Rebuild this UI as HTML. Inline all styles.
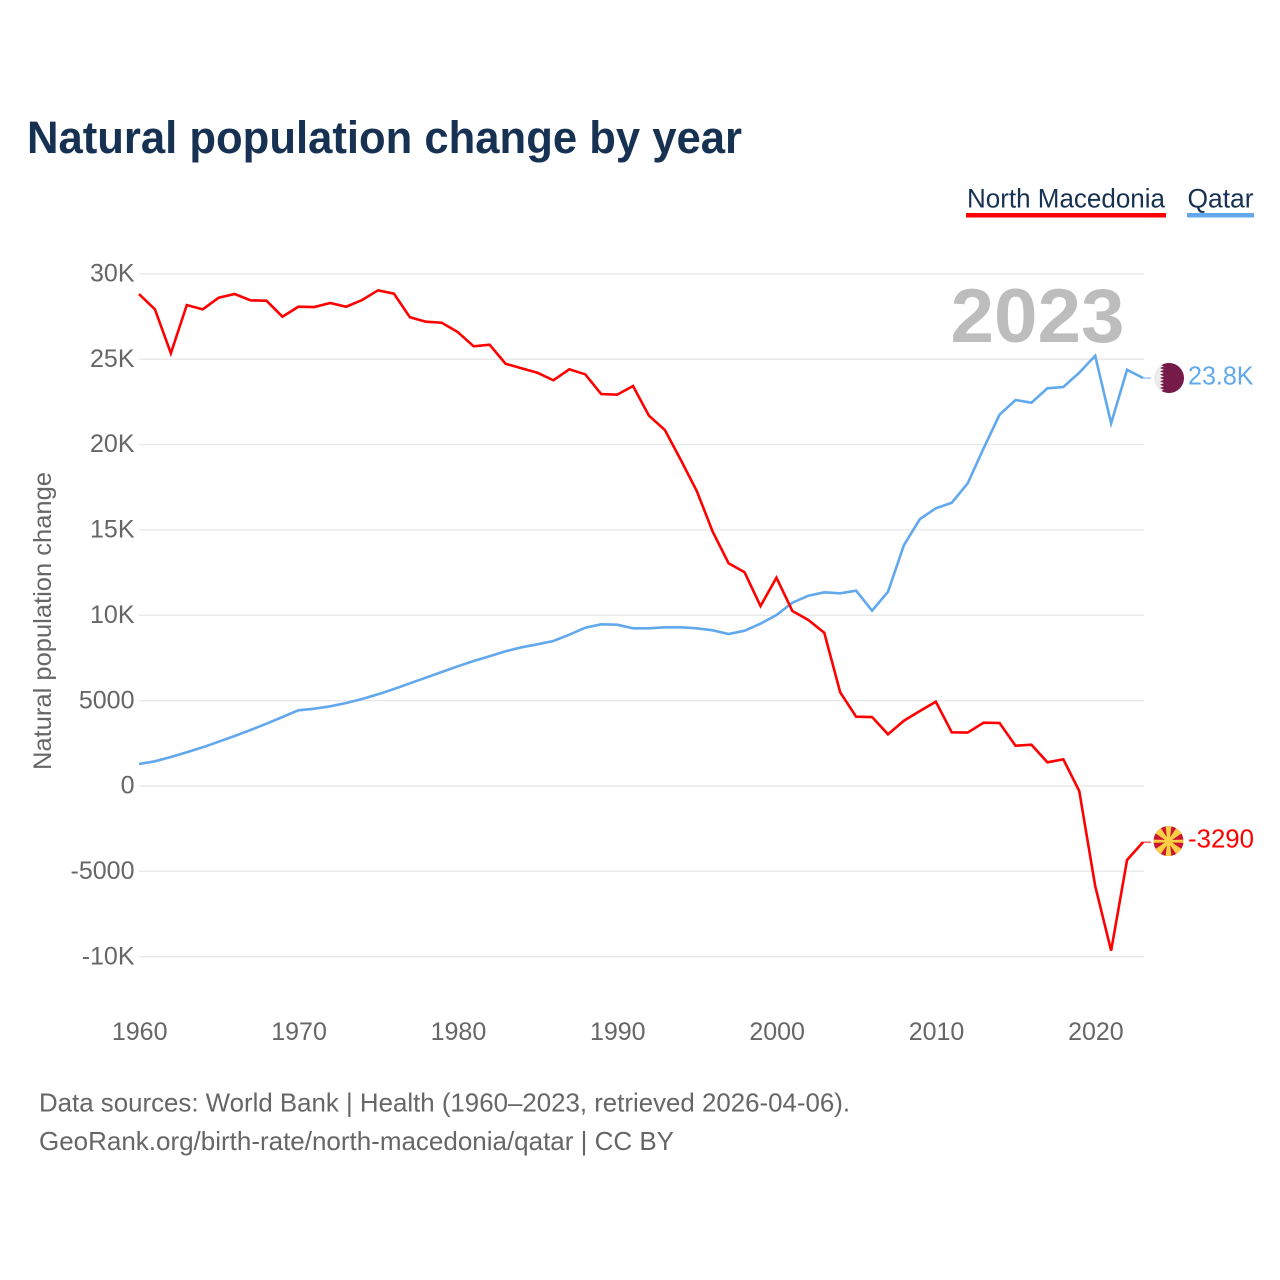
<!DOCTYPE html>
<html lang="en">
<head>
<meta charset="utf-8">
<title>Natural population change by year</title>
<style>
html,body{margin:0;padding:0;background:#fff;}
svg{display:block;font-family:"Liberation Sans",sans-serif;}
</style>
</head>
<body>
<svg id="chart" width="1280" height="1280" viewBox="0 0 1280 1280" xmlns="http://www.w3.org/2000/svg">
  <rect width="1280" height="1280" fill="#fff"/>
  <text x="27" y="153" font-size="45" font-weight="700" fill="#163152" textLength="715" lengthAdjust="spacingAndGlyphs">Natural population change by year</text>

  <g>
    <text x="967" y="207.5" font-size="27" fill="#163152" textLength="198" lengthAdjust="spacingAndGlyphs">North Macedonia</text>
    <rect x="966" y="213" width="200" height="4.5" fill="#ff0000"/>
  </g>
  <g>
    <text x="1187.5" y="207.5" font-size="27" fill="#163152" textLength="66" lengthAdjust="spacingAndGlyphs">Qatar</text>
    <rect x="1187" y="213" width="67" height="4.5" fill="#61a8ec"/>
  </g>

  <text transform="translate(51,770) rotate(-90)" font-size="25" fill="#666" textLength="298" lengthAdjust="spacingAndGlyphs">Natural population change</text>

  <g id="grid"></g>
  <g id="yticks"></g>
  <g id="xticks"></g>

  <text x="950.5" y="342" font-size="76" font-weight="700" fill="#bdbdbd" textLength="174" lengthAdjust="spacingAndGlyphs">2023</text>

  <g id="series"></g>

  <g id="flag-qatar">
    <clipPath id="qa-clip"><circle r="15"/></clipPath>
    <g clip-path="url(#qa-clip)">
      <rect x="-15" y="-15" width="30" height="30" fill="#ececec"/>
      <path fill="#761a47" d="M16 -16H-5V-15L-9 -13.3L-5 -11.7L-9 -10L-5 -8.3L-9 -6.7L-5 -5L-9 -3.3L-5 -1.7L-9 0L-5 1.7L-9 3.3L-5 5L-9 6.7L-5 8.3L-9 10L-5 11.7L-9 13.3L-5 15V16H16Z"/>
    </g>
  </g>
  <g id="flag-mk">
    <clipPath id="mk-clip"><circle r="15"/></clipPath>
    <g clip-path="url(#mk-clip)">
      <rect x="-15" y="-15" width="30" height="30" fill="#cc1530"/>
      <g fill="#fbcf45">
        <path d="M-1.2 0L-3 -16H3L1.2 0Z"/>
        <path transform="rotate(45)" d="M-1 0L-5 -22H5L1 0Z"/>
        <path transform="rotate(90)" d="M-1.2 0L-1.6 -16H1.6L1.2 0Z"/>
        <path transform="rotate(135)" d="M-1 0L-5 -22H5L1 0Z"/>
        <path transform="rotate(180)" d="M-1.2 0L-3 -16H3L1.2 0Z"/>
        <path transform="rotate(225)" d="M-1 0L-5 -22H5L1 0Z"/>
        <path transform="rotate(270)" d="M-1.2 0L-1.6 -16H1.6L1.2 0Z"/>
        <path transform="rotate(315)" d="M-1 0L-5 -22H5L1 0Z"/>
      </g>
      <circle r="3.9" fill="#fbcf45"/>
    </g>
  </g>

  <text id="value-qatar" x="1188" y="384.5" font-size="25.5" fill="#61a8ec" textLength="65.5" lengthAdjust="spacingAndGlyphs">23.8K</text>
  <text id="value-mk" x="1188" y="847" font-size="25.5" fill="#ff0000" textLength="66" lengthAdjust="spacingAndGlyphs">-3290</text>

  <text x="39" y="1111.7" font-size="26" fill="#666" textLength="811" lengthAdjust="spacingAndGlyphs">Data sources: World Bank | Health (1960–2023, retrieved 2026-04-06).</text>
  <text x="39" y="1150" font-size="26" fill="#666" textLength="635" lengthAdjust="spacingAndGlyphs">GeoRank.org/birth-rate/north-macedonia/qatar | CC BY</text>
</svg>
<script>
const startYear = 1960;
const yTickValues = [30000, 25000, 20000, 15000, 10000, 5000, 0, -5000, -10000];
const yTickLabels = ["30K", "25K", "20K", "15K", "10K", "5000", "0", "-5000", "-10K"];
const xTickYears = [1960, 1970, 1980, 1990, 2000, 2010, 2020];
const northMacedonia = [
  28820, 27925, 25348, 28177, 27925, 28605, 28820, 28452, 28429, 27492,
  28077, 28060, 28294, 28077, 28470, 29038, 28839, 27457, 27199, 27140,
  26595, 25758, 25851, 24738, 24469, 24211, 23766, 24410, 24117, 22963,
  22922, 23432, 21692, 20854, 19097, 17281, 14897, 13046, 12519, 10544,
  12202, 10252, 9724, 8980, 5489, 4060, 4040, 3029, 3825, 4394,
  4938, 3146, 3130, 3708, 3691, 2361, 2419, 1388, 1564, -293,
  -5858, -9648, -4335, -3290
];
const qatar = [
  1289, 1447, 1699, 1974, 2267, 2595, 2929, 3280, 3650, 4042,
  4435, 4528, 4669, 4862, 5096, 5372, 5682, 6016, 6344, 6678,
  7012, 7323, 7598, 7891, 8125, 8301, 8494, 8863, 9273, 9472,
  9449, 9238, 9238, 9297, 9297, 9238, 9121, 8904, 9097, 9508,
  10017, 10738, 11148, 11347, 11289, 11441, 10269, 11382, 14118, 15641,
  16268, 16596, 17732, 19783, 21751, 22612, 22454, 23297, 23374, 24211,
  25207, 21247, 24387, 23900
];

const NS = "http://www.w3.org/2000/svg";
function xScale(year) { return 139 + (year - 1960) * (1004 / 63); }
function yScale(value) { return 786 - value * (512.1 / 30000); }
function make(tag, parent) {
  const el = document.createElementNS(NS, tag);
  parent.appendChild(el);
  return el;
}

const grid = document.getElementById("grid");
const yticks = document.getElementById("yticks");
yTickValues.forEach(function (v, i) {
  const line = make("line", grid);
  
  
  line.setAttribute("x1", 139);
  line.setAttribute("x2", 1144);
  line.setAttribute("y1", yScale(v));
  line.setAttribute("y2", yScale(v));
  line.setAttribute("stroke", "#e9e9e9");
  line.setAttribute("stroke-width", "1.4");
  const t = make("text", yticks);
  
  
  t.setAttribute("x", 134.5);
  t.setAttribute("y", yScale(v) + 7.6);
  t.setAttribute("text-anchor", "end");
  t.setAttribute("font-size", "25");
  t.setAttribute("fill", "#666");
  t.textContent = yTickLabels[i];
});

const xticks = document.getElementById("xticks");
xTickYears.forEach(function (yr) {
  const t = make("text", xticks);
  
  
  t.setAttribute("x", xScale(yr) + 0.7);
  t.setAttribute("y", 1040);
  t.setAttribute("text-anchor", "middle");
  t.setAttribute("font-size", "25");
  t.setAttribute("fill", "#666");
  t.textContent = String(yr);
});

const seriesGroup = document.getElementById("series");
function pointsFor(values) {
  return values.map(function (v, i) {
    return xScale(startYear + i).toFixed(2) + "," + yScale(v).toFixed(2);
  }).join(" ");
}
function stub(values, color) {
  const last = values[values.length - 1];
  const s = make("line", seriesGroup);
  
  
  s.setAttribute("x1", xScale(startYear + values.length - 1));
  s.setAttribute("x2", 1151);
  s.setAttribute("y1", yScale(last));
  s.setAttribute("y2", yScale(last));
  s.setAttribute("stroke", color);
  s.setAttribute("stroke-width", "1");
}

const qatarLine = make("polyline", seriesGroup);


qatarLine.setAttribute("points", pointsFor(qatar));
qatarLine.setAttribute("fill", "none");
qatarLine.setAttribute("stroke", "#61a8ec");
qatarLine.setAttribute("stroke-width", "2.6");
stub(qatar, "#61a8ec");

const mkLine = make("polyline", seriesGroup);


mkLine.setAttribute("points", pointsFor(northMacedonia));
mkLine.setAttribute("fill", "none");
mkLine.setAttribute("stroke", "#ff0000");
mkLine.setAttribute("stroke-width", "2.6");
stub(northMacedonia, "#ff0000");

const qaY = yScale(qatar[qatar.length - 1]);
const mkY = yScale(northMacedonia[northMacedonia.length - 1]);
document.getElementById("flag-qatar").setAttribute("transform", "translate(1169," + qaY + ")");
document.getElementById("flag-mk").setAttribute("transform", "translate(1168.5," + (mkY - 1) + ")");
document.getElementById("value-qatar").setAttribute("y", qaY + 6.5);
document.getElementById("value-mk").setAttribute("y", mkY + 5.2);
</script>
</body>
</html>
